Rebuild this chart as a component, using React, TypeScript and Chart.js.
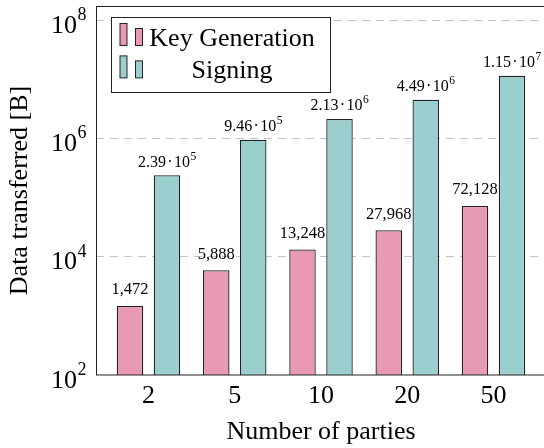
import React, { useEffect, useRef } from 'react';
import { Chart, registerables } from 'chart.js';

Chart.register(...registerables);

const PARTIES = ['2', '5', '10', '20', '50'];
const KEYGEN = [1472, 5888, 13248, 27968, 72128];
const SIGNING = [239000, 946000, 2130000, 4490000, 11500000];
const Y_TICKS = [1e2, 1e4, 1e6, 1e8];
const SERIES_NAMES = ['Key Generation', 'Signing'];

const FONT = "'Liberation Serif', 'Times New Roman', serif";
const PINK = '#E89AB4';
const TEAL = '#9BCECE';
const EDGE = '#222222';

type Lbl = { base: string; exp: string | null };

function plainLabel(v: number): Lbl {
  return { base: v.toLocaleString('en-US'), exp: null };
}
function sciLabel(v: number): Lbl {
  const e = Math.floor(Math.log10(v));
  const m = v / Math.pow(10, e);
  return { base: m.toFixed(2) + '\u200A\u00B7\u200A10', exp: String(e) };
}

const overlay = {
  id: 'overlay',
  afterDraw(chart: any) {
    const ctx = chart.ctx as CanvasRenderingContext2D;
    const a = chart.chartArea;
    ctx.save();
    // frame
    ctx.strokeStyle = '#222';
    ctx.lineWidth = 1;
    ctx.strokeRect(a.left + 0.5, a.top + 0.5, a.right - a.left - 1, a.bottom - a.top - 0.5);

    // y tick labels 10^n
    const ys = chart.scales.y;
    ctx.fillStyle = '#000';
    ctx.textBaseline = 'alphabetic';
    ctx.textAlign = 'left';
    Y_TICKS.forEach((v) => {
      const py = ys.getPixelForValue(v);
      const exp = String(Math.round(Math.log10(v)));
      ctx.font = `26px ${FONT}`;
      const wb = ctx.measureText('10').width;
      ctx.font = `18px ${FONT}`;
      const we = ctx.measureText(exp).width;
      const right = a.left - 10;
      const x0 = right - we - wb;
      const base = py + 12.5;
      ctx.font = `26px ${FONT}`;
      ctx.fillText('10', x0, base);
      ctx.font = `18px ${FONT}`;
      ctx.fillText(exp, x0 + wb + 0.5, base - 12.5);
    });

    // data labels
    chart.data.datasets.forEach((ds: any, di: number) => {
      const meta = chart.getDatasetMeta(di);
      meta.data.forEach((bar: any, j: number) => {
        const v = ds.data[j].y;
        const lbl = di === 0 ? plainLabel(v) : sciLabel(v);
        const fs = di === 0 ? 16.5 : 16;
        ctx.font = `${fs}px ${FONT}`;
        const mb = ctx.measureText(lbl.base);
        const wb = mb.width;
        const desc = Math.max(0, mb.actualBoundingBoxDescent || 0);
        let we = 0;
        if (lbl.exp) {
          ctx.font = `11.5px ${FONT}`;
          we = ctx.measureText(lbl.exp).width + 0.5;
        }
        const x0 = bar.x - (wb + we) / 2;
        const baseY = bar.y - 8.5 - (desc > 1 ? desc : 0);
        ctx.font = `${fs}px ${FONT}`;
        ctx.fillText(lbl.base, x0, baseY);
        if (lbl.exp) {
          ctx.font = `11.5px ${FONT}`;
          ctx.fillText(lbl.exp, x0 + wb + 0.5, baseY - 7);
        }
      });
    });

    // legend
    const lx = 111, ly = 17, lw = 219, lh = 75;
    ctx.fillStyle = '#fff';
    ctx.fillRect(lx, ly, lw, lh);
    ctx.strokeStyle = '#222';
    ctx.strokeRect(lx + 0.5, ly + 0.5, lw, lh);
    chart.data.datasets.forEach((ds: any, di: number) => {
      const bottom = 45.5 + di * 32.4;
      ctx.fillStyle = ds.backgroundColor;
      ctx.strokeStyle = ds.borderColor;
      ctx.lineWidth = 1;
      ctx.fillRect(120, bottom - 22, 7, 22);
      ctx.strokeRect(120, bottom - 22, 7, 22);
      ctx.fillRect(135.5, bottom - 17, 7, 17);
      ctx.strokeRect(135.5, bottom - 17, 7, 17);
      ctx.fillStyle = '#000';
      ctx.font = `26px ${FONT}`;
      ctx.textAlign = 'center';
      ctx.fillText(ds.label, 232, bottom + 0.5);
      ctx.textAlign = 'left';
    });
    ctx.restore();
  },
};

export default function App() {
  const ref = useRef<HTMLCanvasElement | null>(null);
  useEffect(() => {
    if (!ref.current) return;
    const chart = new Chart(ref.current, {
      type: 'bar',
      data: {
        datasets: [
          {
            label: SERIES_NAMES[0],
            data: KEYGEN.map((v, i) => ({ x: i, y: v })),
            backgroundColor: PINK,
            borderColor: EDGE,
            borderWidth: 1.3,
          },
          {
            label: SERIES_NAMES[1],
            data: SIGNING.map((v, i) => ({ x: i, y: v })),
            backgroundColor: TEAL,
            borderColor: EDGE,
            borderWidth: 1.3,
          },
        ],
      },
      options: {
        responsive: false,
        animation: false,
        categoryPercentage: 0.858,
        barPercentage: 0.716,
        layout: { padding: { top: 6, right: 4, left: 0, bottom: 0 } },
        plugins: { legend: { display: false }, tooltip: { enabled: false } },
        scales: {
          x: {
            type: 'linear',
            min: -0.6087,
            max: 4.6087,
            offset: false,
            grid: { display: false, drawTicks: false },
            border: { display: false },
            afterBuildTicks: (s: any) => {
              s.ticks = PARTIES.map((_, i) => ({ value: i }));
            },
            afterFit: (s: any) => {
              s.height = 73;
            },
            ticks: {
              includeBounds: false,
              stepSize: 1,
              padding: 6,
              color: '#000',
              font: { family: FONT, size: 26 },
              callback: (v: any) => PARTIES[Math.round(Number(v))] ?? '',
            },
            title: {
              display: true,
              text: 'Number of parties',
              color: '#000',
              font: { family: FONT, size: 26, lineHeight: 1 },
              padding: { top: 0, bottom: 3 },
            },
          },
          y: {
            type: 'logarithmic',
            min: 100,
            max: 1.73e8,
            afterBuildTicks: (s: any) => {
              s.ticks = Y_TICKS.map((v) => ({ value: v }));
            },
            afterFit: (s: any) => {
              s.width = 96;
            },
            ticks: { display: false },
            grid: {
              drawTicks: false,
              color: (c: any) => (c.tick && c.tick.value === 100 ? 'rgba(0,0,0,0)' : '#c4c4c4'),
              lineWidth: 1,
            },
            border: { display: false, dash: [8, 6] },
            title: {
              display: true,
              text: 'Data transferred [B]',
              color: '#000',
              font: { family: FONT, size: 26, lineHeight: 1 },
              padding: { top: 7, bottom: 0 },
            },
          },
        },
      } as any,
      plugins: [overlay],
    });
    return () => chart.destroy();
  }, []);
  return (
    <div style={{ position: 'fixed', left: 0, top: 0, width: 544, height: 448, overflow: 'hidden', background: '#fff' }}>
      <canvas ref={ref} width={550} height={448} style={{ display: 'block' }} />
    </div>
  );
}
